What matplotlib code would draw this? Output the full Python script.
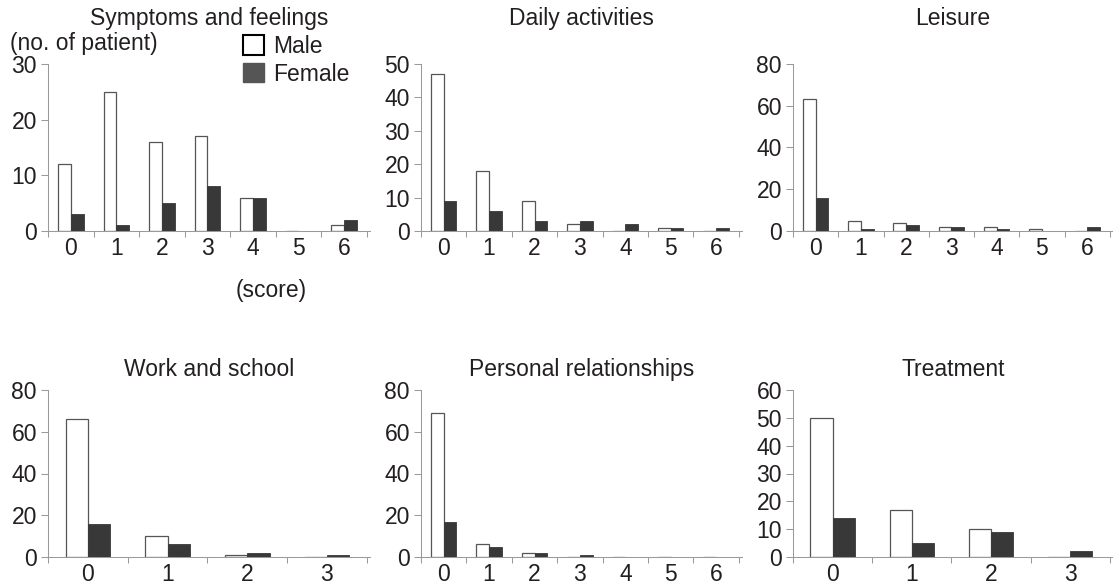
import matplotlib
matplotlib.use("Agg")
import matplotlib.pyplot as plt
import numpy as np
from matplotlib.patches import Patch

plt.rcParams["font.family"] = ["Liberation Sans", "DejaVu Sans"]

TEXT = "#231f20"
AXIS = "#9a9a9a"
MALE_EDGE = "#555555"
FEMALE = "#383838"

titles = [
    "Symptoms and feelings",
    "Daily activities",
    "Leisure",
    "Work and school",
    "Personal relationships",
    "Treatment",
]
scores = [
    ["0", "1", "2", "3", "4", "5", "6"],
    ["0", "1", "2", "3", "4", "5", "6"],
    ["0", "1", "2", "3", "4", "5", "6"],
    ["0", "1", "2", "3"],
    ["0", "1", "2", "3", "4", "5", "6"],
    ["0", "1", "2", "3"],
]
male = [
    [12, 25, 16, 17, 6, 0, 1],
    [47, 18, 9, 2, 0, 1, 0],
    [63, 5, 4, 2, 2, 1, 0],
    [66, 10, 1, 0],
    [69, 6, 2, 0, 0, 0, 0],
    [50, 17, 10, 0],
]
female = [
    [3, 1, 5, 8, 6, 0, 2],
    [9, 6, 3, 3, 2, 1, 1],
    [16, 1, 3, 2, 1, 0, 2],
    [16, 6, 2, 1],
    [17, 5, 2, 1, 0, 0, 0],
    [14, 5, 9, 2],
]
y_max = [30, 50, 80, 80, 80, 60]
y_step = [10, 10, 20, 20, 20, 10]

W, H = 1113, 588
fig = plt.figure(figsize=(W / 100, H / 100), dpi=100)

# axes boxes in pixels: left, top, width, height
lefts = [48, 421, 793]
tops = [64, 390]
widths = [322, 321, 320]
ax_h = 167

fs = 16.5
bw = 0.28

for i in range(6):
    r, c = divmod(i, 3)
    ax = fig.add_axes([lefts[c] / W, 1 - (tops[r] + ax_h) / H, widths[c] / W, ax_h / H])
    n = len(scores[i])
    x = np.arange(n)
    ax.bar(x - bw / 2, male[i], bw, color="white", edgecolor=MALE_EDGE, linewidth=0.9)
    ax.bar(x + bw / 2, female[i], bw, color=FEMALE, edgecolor=FEMALE, linewidth=0.6)
    ax.set_xlim(-0.5, n - 0.5 + 0.01 * n)
    ax.set_ylim(0, y_max[i])
    ax.set_yticks(np.arange(0, y_max[i] + 1, y_step[i]))
    ax.set_xticks(x)
    ax.set_xticklabels(scores[i])
    ax.set_xticks(np.arange(n + 1) - 0.5, minor=True)
    ax.tick_params(axis="x", which="major", length=0, pad=4, labelsize=fs, colors=TEXT)
    ax.tick_params(axis="x", which="minor", length=4, width=0.75, color=AXIS, direction="out")
    ax.tick_params(axis="y", length=5, width=0.75, color=AXIS, pad=3, labelsize=fs,
                   labelcolor=TEXT, direction="out")
    for s in ["top", "right"]:
        ax.spines[s].set_visible(False)
    for s in ["left", "bottom"]:
        ax.spines[s].set_color(AXIS)
        ax.spines[s].set_linewidth(0.75)
    ax.patch.set_alpha(0)
    gap = 39 if r == 0 else 14
    ax.text(0.5, 1 + gap / ax_h, titles[i], transform=ax.transAxes, ha="center",
            va="baseline", fontsize=fs, color=TEXT)

fig.text(10 / W, 1 - 50 / H, "(no. of patient)", ha="left", va="baseline",
         fontsize=fs, color=TEXT)
fig.text(271 / W, 1 - 297 / H, "(score)", ha="center", va="baseline",
         fontsize=fs, color=TEXT)

handles = [
    Patch(facecolor="white", edgecolor="black", linewidth=1.5, label="Male"),
    Patch(facecolor="#555555", edgecolor="#555555", label="Female"),
]
fig.legend(handles=handles, loc="upper left", bbox_to_anchor=(243 / W, 1 - 35 / H),
           frameon=False, fontsize=fs, handlelength=0.92, handleheight=0.92,
           handletextpad=0.4, labelspacing=0.2, borderpad=0, borderaxespad=0,
           labelcolor=TEXT)

fig.savefig("out.png", dpi=100)
